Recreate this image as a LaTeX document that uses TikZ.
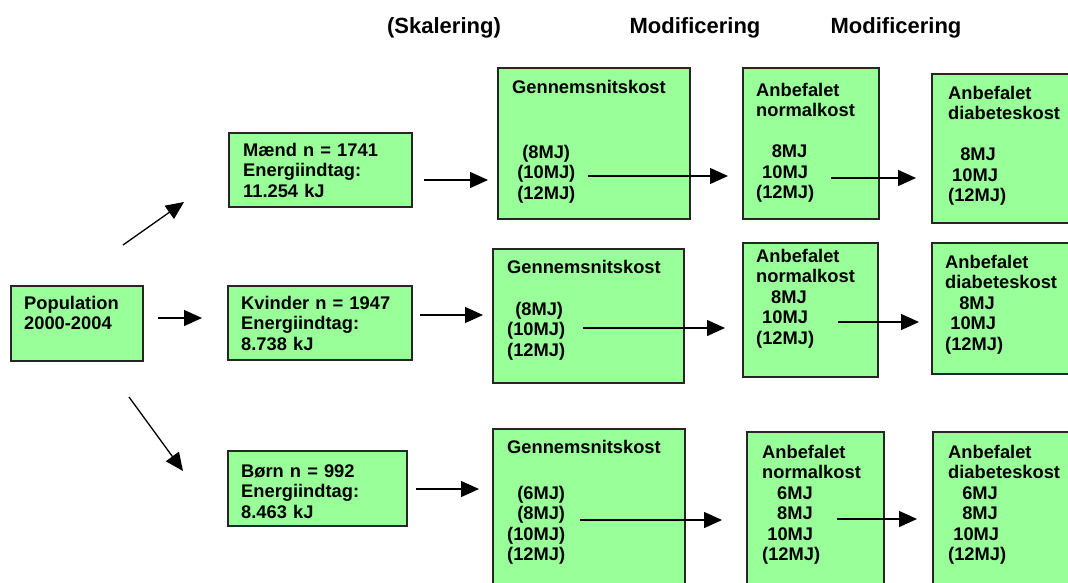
\documentclass[tikz,border=0pt]{standalone}
\usepackage{fontspec}
\setmainfont{Liberation Sans}
\usetikzlibrary{arrows.meta,fit}

\definecolor{kassegroen}{RGB}{153,255,153}

\tikzset{
	kasse/.style={draw=black!85, fill=kassegroen, line width=1.4pt, inner sep=0pt},
	tekst/.style={anchor=base west, align=left, text width=8cm, inner sep=0pt, font=\fontsize{18.3}{20.5}\selectfont\bfseries},
	overskrift/.style={anchor=base, inner sep=0pt, font=\fontsize{22}{24}\selectfont\bfseries},
	pil/.style={-{Triangle[length=18pt,width=16pt]}, line width=1.3pt}
}

\begin{document}
\begin{tikzpicture}[x=1pt, y=-1pt]

	\useasboundingbox (0,0) rectangle (1068,582);
	\clip (0,0) rectangle (1068,582);

	% overskrifter
	\node[overskrift] (skal) at (444,33) {(Skalering)};
	\node[overskrift] (modA) at (695,33) {Modificering};
	\node[overskrift] (modB) at (896,33) {Modificering};

	% population og grupper
	\node[kasse, fit={(11,286) (143,361)}] (pop) {};
	\node[tekst] (pop-t) at (24,309) {Population\\2000-2004};

	\node[kasse, fit={(229,133) (412,207)}] (maend) {};
	\node[tekst] (maend-t) at (243,156) {Mænd n = 1741\\Energiindtag:\\11.254 kJ};

	\node[kasse, fit={(228,286) (412,360)}] (kvinder) {};
	\node[tekst] (kvinder-t) at (241,309) {Kvinder n = 1947\\Energiindtag:\\8.738 kJ};

	\node[kasse, fit={(228,451) (407,526)}] (boern) {};
	\node[tekst] (boern-t) at (241,477) {Børn n = 992\\Energiindtag:\\8.463 kJ};

	% gennemsnitskost
	\node[kasse, fit={(498,68) (690,219)}] (genA) {};
	\node[tekst] (genA-t) at (512,93) {Gennemsnitskost\\[44.5pt]\hspace*{.55em}(8MJ)\\\hspace*{.28em}(10MJ)\\\hspace*{.28em}(12MJ)};

	\node[kasse, fit={(493,249) (684,383)}] (genB) {};
	\node[tekst] (genB-t) at (507,273) {Gennemsnitskost\\[21.5pt]\hspace*{.44em}(8MJ)\\(10MJ)\\(12MJ)};

	\node[kasse, fit={(493,429) (685,600)}] (genC) {};
	\node[tekst] (genC-t) at (507,453) {Gennemsnitskost\\[25.5pt]\hspace*{.55em}(6MJ)\\\hspace*{.55em}(8MJ)\\(10MJ)\\(12MJ)};

	% anbefalet normalkost
	\node[kasse, fit={(743,68) (879,219)}] (normA) {};
	\node[tekst] (normA-t) at (756,96) {Anbefalet\\normalkost\\[20.5pt]\hspace*{.85em}8MJ\\\hspace*{.33em}10MJ\\(12MJ)};

	\node[kasse, fit={(743,243) (878,377)}] (normB) {};
	\node[tekst] (normB-t) at (756,262) {Anbefalet\\normalkost\\\hspace*{.82em}8MJ\\\hspace*{.33em}10MJ\\(12MJ)};

	\node[kasse, fit={(747,432) (884,600)}] (normC) {};
	\node[tekst] (normC-t) at (762,458) {Anbefalet\\normalkost\\\hspace*{.82em}6MJ\\\hspace*{.82em}8MJ\\\hspace*{.28em}10MJ\\(12MJ)};

	% anbefalet diabeteskost
	\node[kasse, fit={(932,74) (1080,223)}] (diabA) {};
	\node[tekst] (diabA-t) at (948,99) {Anbefalet\\diabeteskost\\[20.5pt]\hspace*{.66em}8MJ\\\hspace*{.22em}10MJ\\(12MJ)};

	\node[kasse, fit={(932,243) (1080,374)}] (diabB) {};
	\node[tekst] (diabB-t) at (945,268) {Anbefalet\\diabeteskost\\\hspace*{.77em}8MJ\\\hspace*{.28em}10MJ\\(12MJ)};

	\node[kasse, fit={(933,432) (1080,600)}] (diabC) {};
	\node[tekst] (diabC-t) at (948,458) {Anbefalet\\diabeteskost\\\hspace*{.77em}6MJ\\\hspace*{.77em}8MJ\\\hspace*{.28em}10MJ\\(12MJ)};

	% pile
	\foreach \navn/\x/\y in {p1/123/245, p1e/184/202, p2/158/318, p2e/202/318, p3/129/397, p3e/183/471,
		m1/424/180, m1e/488/180, k1/420/315, k1e/483/315, b1/416/489, b1e/479/489,
		g1/588/176, g1e/728/176, g2/583/328, g2e/725/328, g3/580/520, g3e/722/520,
		n1/831/178, n1e/916/178, n2/838/322, n2e/919/322, n3/837/519, n3e/917/519}
		\coordinate (\navn) at (\x,\y);

	\foreach \fra in {p1, p2, p3, m1, k1, b1, g1, g2, g3, n1, n2, n3}
		\draw[pil] (\fra) -- (\fra e);

\end{tikzpicture}
\end{document}
